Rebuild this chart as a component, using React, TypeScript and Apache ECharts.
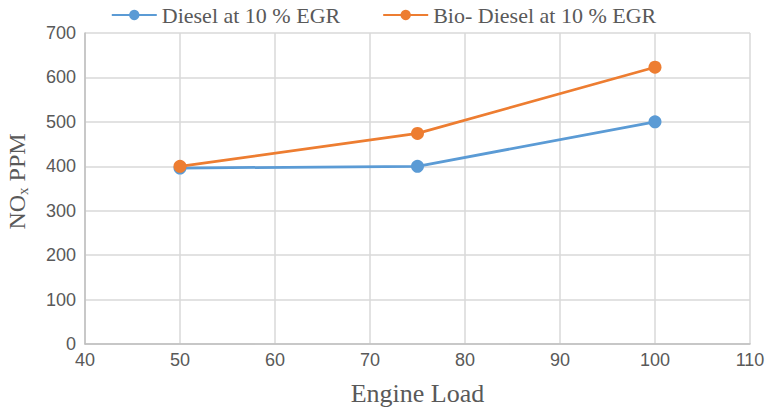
import React, { useEffect, useRef } from "react";
import * as echarts from "echarts";

const engineLoad = [50, 75, 100];
const dieselValues = [396, 400, 500];
const bioDieselValues = [400, 474, 623];
const seriesNames = ["Diesel at 10 % EGR", "Bio- Diesel at 10 % EGR"];

export default function App() {
  const ref = useRef<HTMLDivElement>(null);
  useEffect(() => {
    const chart = echarts.init(ref.current!, undefined, { renderer: "svg" });
    const mk = (vals: number[]) => engineLoad.map((x, i) => [x, vals[i]]);
    chart.setOption({
      animation: false,
      backgroundColor: "#ffffff",
      color: ["#5b9bd5", "#ed7d31"],
      legend: {
        top: -1,
        left: "center",
        itemWidth: 45,
        itemHeight: 13,
        itemGap: 42,
        textStyle: { fontFamily: "Liberation Serif", fontSize: 22, color: "#595959" },
        data: seriesNames,
      },
      grid: {
        left: 85,
        right: 17,
        top: 33,
        bottom: 64,
        containLabel: false,
        outerBoundsMode: "none",
      },
      xAxis: {
        type: "value",
        min: 40,
        max: 110,
        interval: 10,
        name: "Engine Load",
        nameLocation: "middle",
        nameGap: 36,
        nameTextStyle: { fontFamily: "Liberation Serif", fontSize: 26, color: "#595959" },
        axisLine: { show: true, lineStyle: { color: "#bfbfbf", width: 1.5 } },
        axisTick: { show: false },
        axisLabel: { fontFamily: "Liberation Sans", fontSize: 18, color: "#595959", margin: 7 },
        splitLine: { show: true, lineStyle: { color: "#d9d9d9", width: 1.5 } },
      },
      yAxis: {
        type: "value",
        min: 0,
        max: 700,
        interval: 100,
        name: "{a|NO}{b|x}{a| PPM}",
        nameLocation: "middle",
        nameGap: 55,
        nameRotate: 90,
        nameTextStyle: {
          padding: [0, 0, 0, 14],
          rich: {
            a: { fontFamily: "Liberation Serif", fontSize: 24, color: "#595959" },
            b: { fontFamily: "Liberation Serif", fontSize: 15, color: "#595959", padding: [12, 0, 0, 0] },
          },
        },
        axisLine: { show: true, lineStyle: { color: "#bfbfbf", width: 1.5 } },
        axisTick: { show: false },
        axisLabel: { fontFamily: "Liberation Sans", fontSize: 18, color: "#595959", margin: 9 },
        splitLine: { show: true, lineStyle: { color: "#d9d9d9", width: 1.5 } },
      },
      series: [
        {
          name: seriesNames[0],
          type: "line",
          data: mk(dieselValues),
          symbol: "circle",
          symbolSize: 13,
          lineStyle: { width: 2.75 },
          z: 2,
        },
        {
          name: seriesNames[1],
          type: "line",
          data: mk(bioDieselValues),
          symbol: "circle",
          symbolSize: 13,
          lineStyle: { width: 2.75 },
          z: 3,
        },
      ],
    });
    return () => chart.dispose();
  }, []);
  return (
    <div
      ref={ref}
      style={{ position: "absolute", left: 0, top: 0, width: 767, height: 408 }}
    />
  );
}
